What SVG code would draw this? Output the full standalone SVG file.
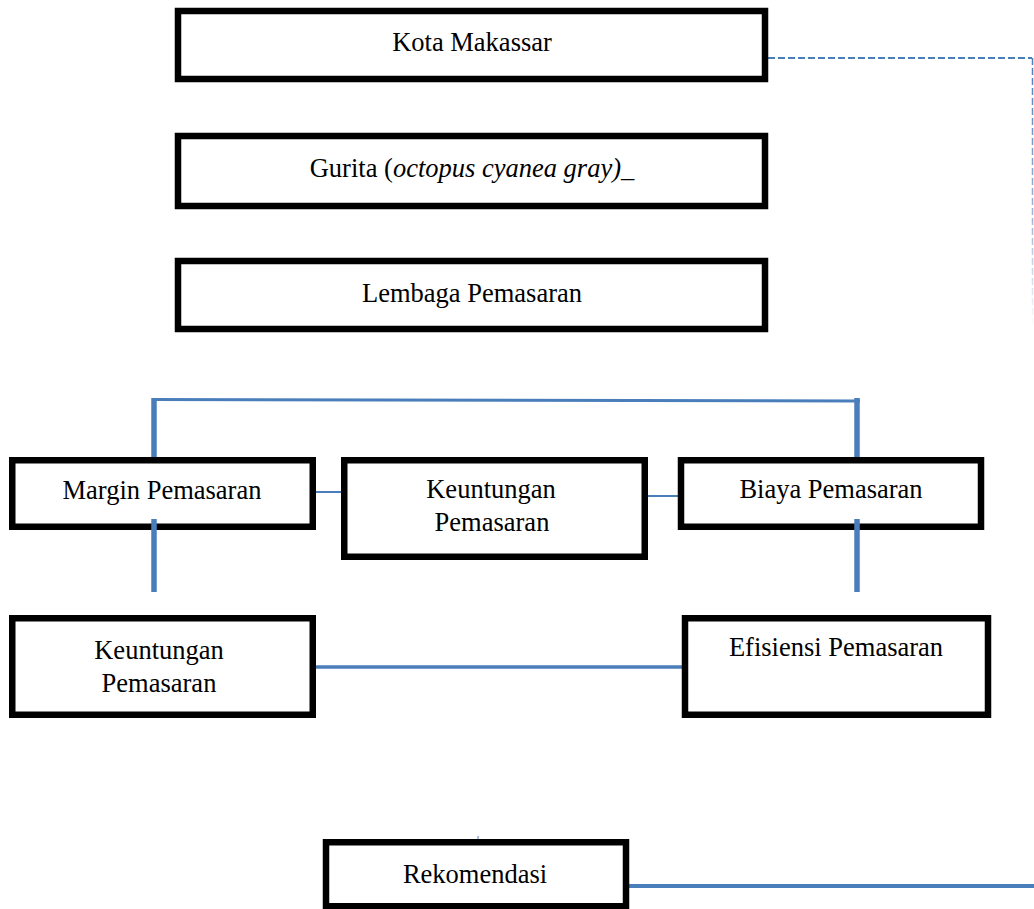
<svg xmlns="http://www.w3.org/2000/svg" width="1034" height="909" viewBox="0 0 1034 909">
<style>
.box{fill:#fff;stroke:#000;stroke-width:6.5}
.t{font-family:"Liberation Serif","Times New Roman",serif;font-size:26.5px;fill:#000;text-anchor:middle}
.c{stroke:#4a7ebb;fill:none}
</style>
<defs>
<linearGradient id="fade" gradientUnits="userSpaceOnUse" x1="0" y1="58" x2="0" y2="330">
<stop offset="0" stop-color="#4a7ebb"/>
<stop offset="0.6" stop-color="#9fb8d8"/>
<stop offset="1" stop-color="#ffffff"/>
</linearGradient>
</defs>
<rect width="1034" height="909" fill="#fff"/>
<g id="connectors">
<path class="c" d="M768 58 H1032" stroke-width="2" stroke-dasharray="7 3"/>
<path d="M1032.5 58 V330" fill="none" stroke="url(#fade)" stroke-width="1.5" stroke-dasharray="7 3"/>
<path class="c" d="M152 399.5 L860 401" stroke-width="3"/>
<path class="c" d="M154 398 V458" stroke-width="5.5"/>
<path class="c" d="M857 398 V458" stroke-width="5.5"/>
<path class="c" d="M313 492 H350" stroke-width="2"/>
<path class="c" d="M645 496 H681" stroke-width="2"/>
<path class="c" d="M315 667 H685" stroke-width="3.5"/>
<path class="c" d="M618 886 H1034" stroke-width="4"/>
<path class="c" d="M478 836 V839" stroke-width="1"/>
</g>
<g id="kota"><rect class="box" x="178" y="11" width="587" height="68"/><text class="t" x="472" y="51">Kota Makassar</text></g>
<g id="gurita"><rect class="box" x="178" y="136" width="587" height="70"/><text class="t" x="472" y="177">Gurita (<tspan font-style="italic">octopus cyanea gray)</tspan>_</text></g>
<g id="lembaga"><rect class="box" x="178" y="261" width="587" height="68"/><text class="t" x="472" y="302">Lembaga Pemasaran</text></g>
<g id="margin"><rect class="box" x="12.25" y="460.25" width="300.5" height="66.5"/><text class="t" x="162" y="499">Margin Pemasaran</text></g>
<g id="keuntungan1"><rect class="box" x="344.25" y="460.25" width="300.5" height="96.5"/><text class="t" x="491" y="498">Keuntungan</text><text class="t" x="492" y="531">Pemasaran</text></g>
<g id="biaya"><rect class="box" x="681" y="460.25" width="300" height="66.5"/><text class="t" x="831" y="498">Biaya Pemasaran</text></g>
<g id="keuntungan2"><rect class="box" x="12.25" y="618.25" width="300.5" height="96.5"/><text class="t" x="159" y="659">Keuntungan</text><text class="t" x="159" y="692">Pemasaran</text></g>
<g id="efisiensi"><rect class="box" x="685" y="618.25" width="303" height="96.5"/><text class="t" x="836" y="656">Efisiensi Pemasaran</text></g>
<g id="rekomendasi"><rect class="box" x="326" y="842.25" width="300" height="64"/><text class="t" x="475" y="883">Rekomendasi</text></g>
<g id="overlays">
<path class="c" d="M154 519 V592" stroke-width="5.5"/>
<path class="c" d="M857 519 V592" stroke-width="5.5"/>
</g>
</svg>
